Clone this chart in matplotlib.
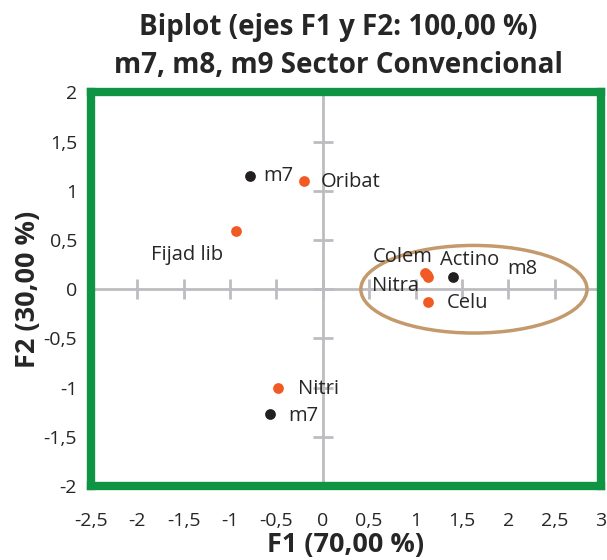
import numpy as np
import matplotlib.pyplot as plt
from matplotlib.patches import Ellipse
from matplotlib.ticker import FuncFormatter, MultipleLocator

plt.rcParams['font.family'] = ['Open Sans', 'DejaVu Sans']

# active variables (orange) and observations (black)
var_names = ['Oribat', 'Fijad lib', 'Colem', 'Nitra', 'Actino', 'Celu', 'Nitri']
var_f1 = [-0.20, -0.94, 1.10, 1.14, 1.12, 1.13, -0.48]
var_f2 = [1.10, 0.59, 0.17, 0.12, 0.14, -0.13, -1.00]

obs_names = ['m7', 'm8', 'm7']
obs_f1 = [-0.79, 1.40, -0.57]
obs_f2 = [1.15, 0.12, -1.27]

# label offsets in points (dx, dy, ha)
var_offsets = {
    'Oribat': (12, -1, 'left'),
    'Fijad lib': (-9, -17, 'right'),
    'Colem': (-16, 11, 'center'),
    'Nitra': (-7, -6, 'right'),
    'Actino': (31, 11, 'center'),
    'Celu': (14, -1, 'left'),
    'Nitri': (14, -1, 'left'),
}
obs_offsets = [(10, 0, 'left'), (39, 6, 'left'), (13, -1, 'left')]

orange = '#f15a24'
black = '#231f20'
grey = '#bdbdc1'
green = '#0f9444'
txt = '#262626'

fig = plt.figure(figsize=(6.07, 5.60), dpi=100)
ax = fig.add_axes([0.150, 0.132, 0.840, 0.703])
ax.set_xlim(-2.5, 3)
ax.set_ylim(-2, 2)

# zero axes with tick crosses
ax.axhline(0, color=grey, lw=2, zorder=1)
ax.axvline(0, color=grey, lw=2, zorder=1)
xt = np.arange(-2.5, 3.01, 0.5)
yt = np.arange(-2, 2.01, 0.5)
ax.plot(xt, np.zeros_like(xt), ls='none', marker='|', ms=15, mew=2, color=grey, zorder=1)
ax.plot(np.zeros_like(yt), yt, ls='none', marker='_', ms=15, mew=2, color=grey, zorder=1)

ax.add_patch(Ellipse((1.63, 0.0), 2.44, 0.89, fill=False, ec='#c49a6c', lw=2.5, zorder=2))

ax.scatter(var_f1, var_f2, s=60, color=orange, zorder=3, lw=0)
ax.scatter(obs_f1, obs_f2, s=60, color=black, zorder=3, lw=0)

for name, x, y in zip(var_names, var_f1, var_f2):
    dx, dy, ha = var_offsets[name]
    ax.annotate(name, (x, y), xytext=(dx, dy), textcoords='offset points',
                ha=ha, va='center', fontsize=14.5, color=txt, zorder=4)
for name, x, y, (dx, dy, ha) in zip(obs_names, obs_f1, obs_f2, obs_offsets):
    ax.annotate(name, (x, y), xytext=(dx, dy), textcoords='offset points',
                ha=ha, va='center', fontsize=14.5, color=txt, zorder=4)

comma = FuncFormatter(lambda v, p: ('%g' % v).replace('.', ','))
ax.xaxis.set_major_locator(MultipleLocator(0.5))
ax.yaxis.set_major_locator(MultipleLocator(0.5))
ax.xaxis.set_major_formatter(comma)
ax.yaxis.set_major_formatter(comma)
ax.tick_params(axis='x', length=0, pad=19, labelsize=14, labelcolor=txt)
ax.tick_params(axis='y', length=0, pad=10, labelsize=14, labelcolor=txt)

for sp in ax.spines.values():
    sp.set_color(green)
    sp.set_linewidth(6)

ax.set_xlabel('F1 (70,00 %)', fontsize=19.5, fontweight='bold', color=txt, labelpad=1)
ax.set_ylabel('F2 (30,00 %)', fontsize=19.5, fontweight='bold', color=txt, labelpad=2)
fig.text(0.557, 0.976, 'Biplot (ejes F1 y F2: 100,00 %)\nm7, m8, m9 Sector Convencional',
         ha='center', va='top', multialignment='center',
         fontsize=20, fontweight='bold', color=txt, linespacing=1.38)

fig.savefig('out.png', dpi=100)
